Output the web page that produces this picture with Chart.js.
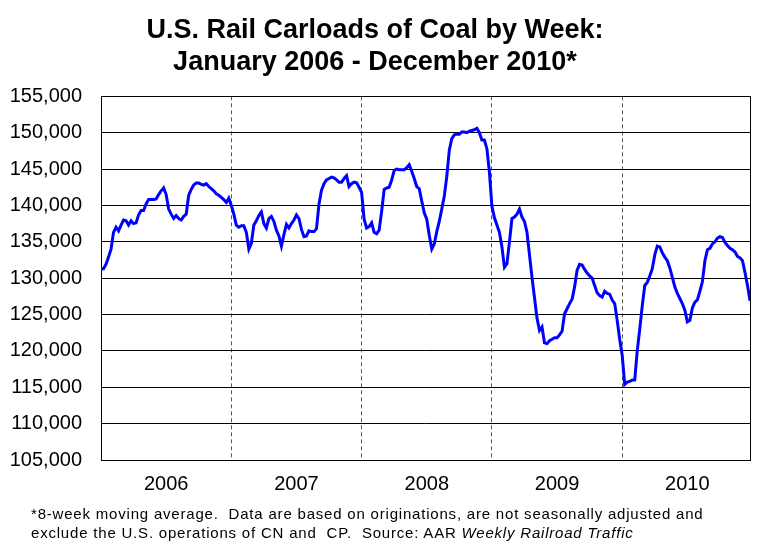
<!DOCTYPE html>
<html>
<head>
<meta charset="utf-8">
<title>U.S. Rail Carloads of Coal by Week</title>
<script src="https://cdn.jsdelivr.net/npm/chart.js@4.4.1/dist/chart.umd.min.js"></script>
<style>
  html, body { margin: 0; padding: 0; background: #fff; }
  #wrap { position: relative; width: 764px; height: 545px; }
  #coalChart { display: block; }
  #note {
    position: absolute;
    left: 31px;
    top: 504px;
    font-family: Arial, "Liberation Sans", Helvetica, sans-serif;
    font-size: 15px;
    letter-spacing: 0.8px;
    line-height: 19.3px;
    color: #000;
    white-space: pre;
  }
</style>
</head>
<body>
<div id="wrap">
  <canvas id="coalChart" width="764" height="545"></canvas>
  <div id="note">*8-week moving average.  Data are based on originations, are not seasonally adjusted and
exclude the U.S. operations of CN and  CP.  Source: AAR <i>Weekly Railroad Traffic</i></div>
</div>
<script>
// Weekly carloads (8-week moving average)
var coal2006 = [131300, 131300, 131900, 132900, 134000, 136300, 137000, 136500, 137300, 138000,
  137900, 137300, 137900, 137500, 137600, 138700, 139300, 139300, 140200, 140800,
  140800, 140800, 140900, 141500, 142000, 142400, 141500, 139500, 138800, 138200,
  138600, 138200, 138000, 138500, 138800, 141400, 142200, 142800, 143100, 143100,
  142900, 142800, 143000, 142600, 142300, 142000, 141600, 141400, 141100, 140800,
  140400, 141000];
var coal2007 = [140000, 138800, 137300, 137000, 137200, 137200, 136300, 134000, 134800, 137300,
  137900, 138600, 139100, 137500, 136900, 138200, 138500, 137800, 136600, 135800,
  134400, 136000, 137400, 136900, 137500, 138000, 138700, 138200, 136700, 135700,
  135800, 136500, 136400, 136400, 136800, 140200, 142100, 143000, 143500, 143700,
  143900, 143800, 143500, 143200, 143200, 143700, 144100, 142600, 143000, 143200,
  143100, 142500];
var coal2008 = [141800, 138100, 136900, 137100, 137600, 136300, 136100, 136600, 139200, 142200,
  142400, 142500, 143500, 144800, 145000, 144900, 144900, 144900, 145200, 145600,
  144700, 143700, 142600, 142300, 140600, 139000, 138100, 135900, 134000, 134700,
  136400, 137800, 139500, 141300, 144000, 147600, 149200, 149700, 149800, 149800,
  150100, 150100, 150000, 150200, 150300, 150400, 150600, 150000, 149000, 149000,
  147800, 144600];
var coal2009 = [139900, 138300, 137300, 136300, 134300, 131500, 132000, 135000, 138200, 138400,
  138800, 139500, 138400, 137800, 136300, 133200, 130100, 127300, 124500, 122800,
  123300, 121100, 121000, 121400, 121600, 121800, 121800, 122200, 122700, 125100,
  125800, 126500, 127100, 128800, 131100, 131900, 131800, 131200, 130700, 130300,
  130000, 129000, 128000, 127600, 127400, 128200, 127900, 127800, 127000, 126500,
  124200, 121600];
var coal2010 = [119400, 115400, 115700, 115800, 116000, 116000, 120000, 123000, 126200, 129000,
  129400, 130300, 131300, 133200, 134400, 134300, 133500, 132900, 132400, 131400,
  130100, 128800, 127900, 127200, 126500, 125600, 124000, 124200, 125900, 126700,
  127000, 128200, 129500, 132400, 133900, 134100, 134700, 135000, 135500, 135700,
  135600, 134900, 134500, 134100, 133900, 133600, 133000, 132800, 132400, 130800,
  129000, 126900];

var yearLabels = ['2006', '2007', '2008', '2009', '2010'];
var weeksPerYear = 52;
var yMin = 105000, yMax = 155000, yStep = 5000;

var fontFamily = 'Arial, "Liberation Sans", Helvetica, sans-serif';

// one continuous weekly series, x = week index from Jan 2006
var allWeeks = [].concat(coal2006, coal2007, coal2008, coal2009, coal2010);
var points = allWeeks.map(function (v, i) {
  return { x: i, y: v };
});

// ticks at mid-year (labels) and at year boundaries (dashed lines)
var xTicks = [];
for (var i = 0; i < yearLabels.length; i++) {
  xTicks.push(i * weeksPerYear + weeksPerYear / 2);
  if (i > 0) xTicks.push(i * weeksPerYear);
}
xTicks.sort(function (a, b) { return a - b; });

// box round the plot area
var frame = {
  id: 'frame',
  beforeDatasetsDraw: function (chart) {
    var a = chart.chartArea;
    var ctx = chart.ctx;
    ctx.save();
    ctx.strokeStyle = '#000';
    ctx.lineWidth = 1;
    ctx.strokeRect(Math.round(a.left) + 0.5, Math.round(a.top) + 0.5,
      Math.round(a.right - a.left), Math.round(a.bottom - a.top));
    ctx.restore();
  }
};

var ctx = document.getElementById('coalChart');
new Chart(ctx, {
  type: 'line',
  data: {
    datasets: [{
      label: 'Coal carloads',
      data: points,
      borderColor: '#0000ff',
      borderWidth: 3,
      pointRadius: 0,
      tension: 0,
      fill: false
    }]
  },
  options: {
    responsive: false,
    animation: false,
    devicePixelRatio: 1,
    layout: {
      padding: { left: 0, right: 14, top: 0, bottom: 37 }
    },
    scales: {
      x: {
        type: 'linear',
        min: 0,
        max: allWeeks.length - 1,
        afterBuildTicks: function (scale) {
          scale.ticks = xTicks.map(function (v) { return { value: v }; });
        },
        grid: {
          drawTicks: false,
          lineWidth: 1,
          color: function (c) {
            if (!c.tick) return 'rgba(0,0,0,0)';
            return c.tick.value % weeksPerYear === 0 ? '#555' : 'rgba(0,0,0,0)';
          }
        },
        border: { display: false, dash: [4, 3] },
        ticks: {
          autoSkip: false,
          maxRotation: 0,
          padding: 12,
          color: '#000',
          font: { family: fontFamily, size: 20 },
          callback: function (value) {
            if (value % weeksPerYear === 0) return '';
            return yearLabels[Math.floor(value / weeksPerYear)];
          }
        }
      },
      y: {
        min: yMin,
        max: yMax,
        afterFit: function (scale) {
          scale.width = 101;
        },
        grid: {
          drawTicks: false,
          color: '#000',
          lineWidth: 1
        },
        border: { display: false },
        ticks: {
          stepSize: yStep,
          padding: 19,
          color: '#000',
          font: { family: fontFamily, size: 20 },
          callback: function (value) {
            return value.toLocaleString('en-US');
          }
        }
      }
    },
    plugins: {
      legend: { display: false },
      tooltip: { enabled: false },
      title: {
        display: true,
        text: ['U.S. Rail Carloads of Coal by Week:', 'January 2006 - December 2010*'],
        color: '#000',
        font: { family: fontFamily, size: 27, weight: 'bold', lineHeight: 1.21 },
        padding: { top: 14, bottom: 17 }
      }
    }
  },
  plugins: [frame]
});
</script>
</body>
</html>
